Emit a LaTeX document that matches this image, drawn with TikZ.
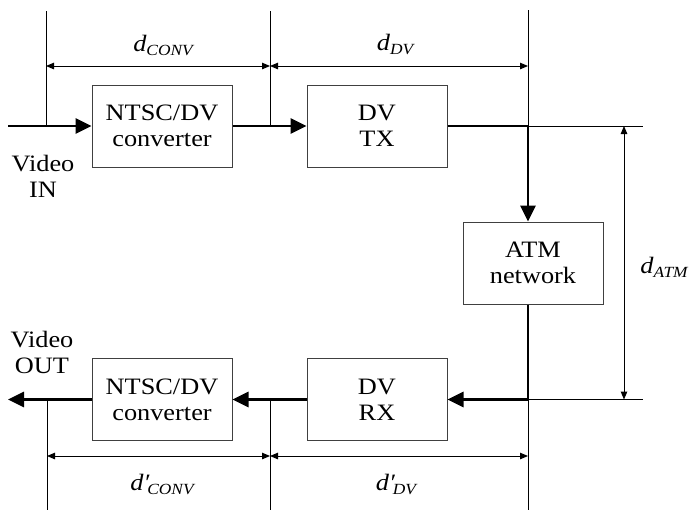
\documentclass[tikz,border=0pt]{standalone}
\usepackage{fontspec}
\setmainfont{Liberation Serif}[FakeStretch=1.12]
\usetikzlibrary{arrows.meta}
\newcommand{\dsub}[2]{{\itshape #1}\raisebox{-4pt}{\fontsize{15.5}{15.5}\selectfont\itshape #2}}
\begin{document}
\begin{tikzpicture}[x=1pt,y=-1pt,
  font=\fontsize{23.5}{26}\selectfont,
  blk/.style={draw=black!75,line width=1pt,fill=white,minimum width=140pt,minimum height=82pt,inner sep=0pt,align=center},
  mainline/.style={line width=2.8pt,-{Triangle[length=16pt,width=15pt]}},
  thinline/.style={line width=1pt},
  dimline/.style={line width=1pt,{Triangle[length=8pt,width=6.5pt]}-{Triangle[length=8pt,width=6.5pt]}},
  lbl/.style={inner sep=0pt,align=center}]
\useasboundingbox (0,0) rectangle (691,512);

% boxes
\node[blk] (conv1) at (162,126) {NTSC/DV\\converter};
\node[blk] (dvtx) at (377,126) {DV\\TX};
\node[blk] (atm) at (533,263) {ATM\\network};
\node[blk] (dvrx) at (377,399.5) {DV\\RX};
\node[blk] (conv2) at (162,399.5) {NTSC/DV\\converter};

% coordinates
\coordinate (in) at (8,126);
\coordinate (j1) at (46,126);
\coordinate (j2) at (270,126);
\coordinate (j3) at (528,126);
\coordinate (r1) at (643,126);
\coordinate (out) at (8,399.5);
\coordinate (j5) at (47,399.5);
\coordinate (j6) at (270,399.5);
\coordinate (j4) at (528,399.5);
\coordinate (r2) at (643,399.5);
\coordinate (t1) at (46,11);
\coordinate (t2) at (270,11);
\coordinate (t3) at (528,10);
\coordinate (b1) at (47,510);
\coordinate (b2) at (270,510);
\coordinate (b3) at (528,510);
\coordinate (a1) at (624,126);
\coordinate (a2) at (624,399.5);

% thin extension lines
\draw[thinline] (t1) -- (j1);
\draw[thinline] (t2) -- (j2);
\draw[thinline] (t3) -- (j3);
\draw[thinline] (j3) -- (r1);
\draw[thinline] (j4) -- (r2);
\draw[thinline] (j5) -- (b1);
\draw[thinline] (j6) -- (b2);
\draw[thinline] (j4) -- (b3);

% signal path
\draw[mainline] (in) -- (conv1.west);
\draw[mainline] (conv1.east) -- (dvtx.west);
\draw[mainline] (dvtx.east) -- (j3) -- (j3 |- atm.north);
\draw[mainline] (j4 |- atm.south) -- (j4) -- (dvrx.east);
\draw[mainline] (dvrx.west) -- (conv2.east);
\draw[mainline] (conv2.west) -- (out);

% dimensions
\coordinate (d1) at (46,66);
\coordinate (d2) at (270,66);
\coordinate (d3) at (528,66);
\coordinate (e1) at (47,456);
\coordinate (e2) at (270,456);
\coordinate (e3) at (528,456);
\draw[dimline] (d1) -- (d2);
\draw[dimline] (d2) -- (d3);
\draw[dimline] (e1) -- (e2);
\draw[dimline] (e2) -- (e3);
\draw[dimline] (a1) -- (a2);

% labels
\node[lbl] (lconv) at (163,45) {\dsub{d}{CONV}};
\node[lbl] (ldv) at (395,44) {\dsub{d}{DV}};
\node[lbl] (latm) at (664,267) {\dsub{d}{ATM}};
\node[lbl] (lconv2) at (162,484) {\dsub{d′\kern-2pt}{CONV}};
\node[lbl] (ldv2) at (396,484) {\dsub{d′\kern-2pt}{DV}};
\node[lbl] (vin) at (43,176) {Video\\IN};
\node[lbl] (vout) at (42,352) {Video\\OUT};
\end{tikzpicture}
\end{document}
